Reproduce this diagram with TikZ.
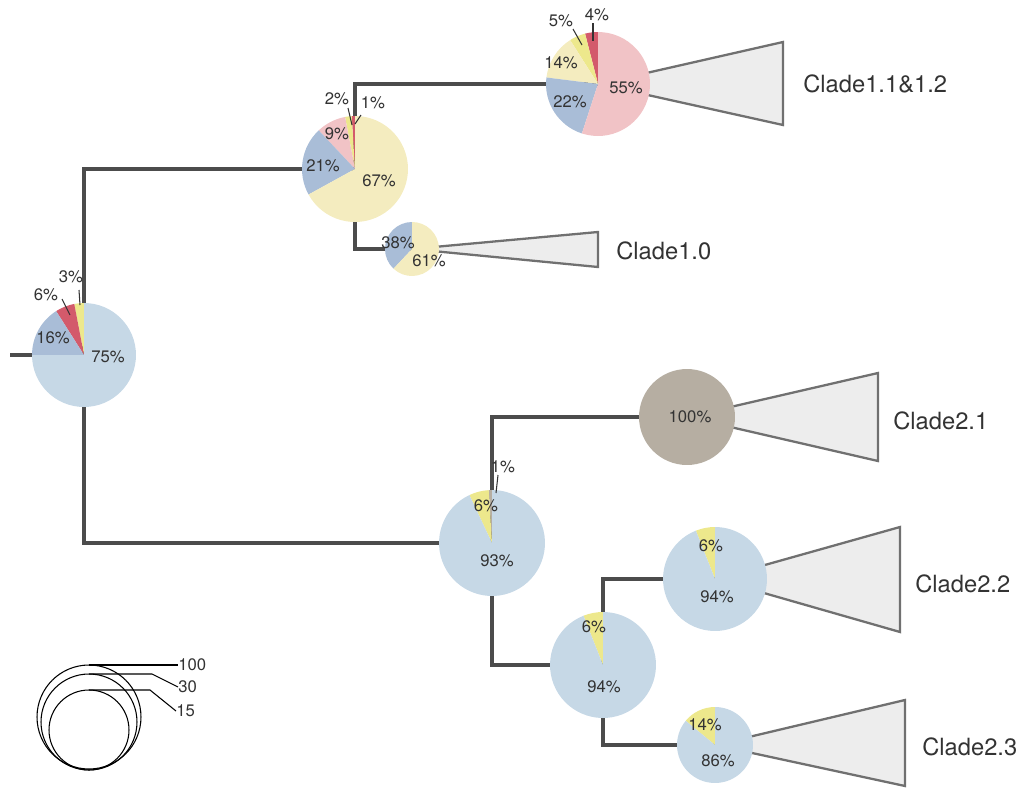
\documentclass[tikz,border=0pt]{standalone}
\usepackage{fontspec}
\setmainfont{TeX Gyre Heros}
\definecolor{skyblue}{HTML}{C6D8E6}
\definecolor{steelblue}{HTML}{A9BDD7}
\definecolor{cherry}{HTML}{D35A6B}
\definecolor{lemon}{HTML}{EDE88C}
\definecolor{cream}{HTML}{F4ECBF}
\definecolor{rose}{HTML}{F1C3C6}
\definecolor{taupe}{HTML}{B6AEA2}
\definecolor{ink}{HTML}{333333}
\tikzset{branch/.style={draw=black!70,line width=1.9pt},
  clade/.style={draw=black!56,fill=black!7,line width=1.3pt,line join=miter},
  pct/.style={text=ink,font=\fontsize{9.5}{11}\selectfont,inner sep=0pt},
  cladename/.style={text=ink,font=\fontsize{13.5}{16}\selectfont,anchor=west,inner sep=0pt},
  leader/.style={draw=ink,line width=0.6pt},
  scalering/.style={draw=black,line width=0.6pt},
  scalename/.style={text=ink,font=\fontsize{9.5}{11}\selectfont,anchor=west,inner sep=0pt},
}
\newcommand{\pieslice}[5]{\fill[#5] (#1) -- ++(#3:#2) arc[start angle=#3,end angle=#4,radius=#2] -- cycle;}

\begin{document}
\begin{tikzpicture}[x=0.02cm,y=0.02cm]
    \useasboundingbox (0,0) rectangle (1022,-788);

    % tree nodes (pie centres)
    \coordinate (stem) at (10,-355);
    \coordinate (root) at (84,-355);
    \coordinate (a) at (355,-169);
    \coordinate (a1) at (598,-84);
    \coordinate (a2) at (412,-249);
    \coordinate (b) at (492,-543);
    \coordinate (b1) at (687,-417);
    \coordinate (b2) at (603,-665);
    \coordinate (b21) at (715,-579);
    \coordinate (b22) at (715,-745);

    % branches
    \draw[branch] (stem) -- (root);
    \draw[branch] (root) |- (a);
    \draw[branch] (root) |- (b);
    \draw[branch] (a) |- (a1);
    \draw[branch] (a) |- (a2);
    \draw[branch] (b) |- (b1);
    \draw[branch] (b) |- (b2);
    \draw[branch] (b2) |- (b21);
    \draw[branch] (b2) |- (b22);

    % collapsed clades
    \coordinate (t11) at (783,-42);
    \coordinate (t12) at (783,-125);
    \coordinate (t21) at (598,-232);
    \coordinate (t22) at (598,-267);
    \coordinate (t31) at (878,-373);
    \coordinate (t32) at (878,-461);
    \coordinate (t41) at (900,-527);
    \coordinate (t42) at (900,-632);
    \coordinate (t51) at (905,-700);
    \coordinate (t52) at (905,-786);
    \path[clade] (a1) -- (t11) -- (t12) -- cycle;
    \path[clade] (a2) -- (t21) -- (t22) -- cycle;
    \path[clade] (b1) -- (t31) -- (t32) -- cycle;
    \path[clade] (b21) -- (t41) -- (t42) -- cycle;
    \path[clade] (b22) -- (t51) -- (t52) -- cycle;

    % pies
    \pieslice{root}{1.04cm}{90}{100.8}{lemon}
    \pieslice{root}{1.04cm}{100.8}{122.4}{cherry}
    \pieslice{root}{1.04cm}{122.4}{180}{steelblue}
    \pieslice{root}{1.04cm}{180}{450}{skyblue}

    \pieslice{a}{1.06cm}{90}{93.6}{cherry}
    \pieslice{a}{1.06cm}{93.6}{100.8}{lemon}
    \pieslice{a}{1.06cm}{100.8}{133.2}{rose}
    \pieslice{a}{1.06cm}{133.2}{208.8}{steelblue}
    \pieslice{a}{1.06cm}{208.8}{450}{cream}

    \pieslice{a1}{1.04cm}{90}{104.4}{cherry}
    \pieslice{a1}{1.04cm}{104.4}{122.4}{lemon}
    \pieslice{a1}{1.04cm}{122.4}{172.8}{cream}
    \pieslice{a1}{1.04cm}{172.8}{252}{steelblue}
    \pieslice{a1}{1.04cm}{252}{450}{rose}

    \pieslice{a2}{0.54cm}{90}{226.8}{steelblue}
    \pieslice{a2}{0.54cm}{226.8}{450}{cream}

    \pieslice{b}{1.06cm}{90}{93.6}{taupe}
    \pieslice{b}{1.06cm}{93.6}{115.2}{lemon}
    \pieslice{b}{1.06cm}{115.2}{450}{skyblue}

    \fill[taupe] (b1) circle[radius=0.96cm];

    \pieslice{b2}{1.06cm}{90}{111.6}{lemon}
    \pieslice{b2}{1.06cm}{111.6}{450}{skyblue}

    \pieslice{b21}{1.04cm}{90}{111.6}{lemon}
    \pieslice{b21}{1.04cm}{111.6}{450}{skyblue}

    \pieslice{b22}{0.76cm}{90}{140.4}{lemon}
    \pieslice{b22}{0.76cm}{140.4}{450}{skyblue}

    % percentages
    \node[pct] (r75) at (108,-357) {75\%};
    \node[pct] (r16) at (53,-338) {16\%};
    \node[pct] (r6) at (46,-295) {6\%};
    \node[pct] (r3) at (71,-277) {3\%};
    \node[pct] (a67) at (379,-181) {67\%};
    \node[pct] (a21) at (323,-166) {21\%};
    \node[pct] (a9) at (337,-134) {9\%};
    \node[pct] (a2p) at (337,-99) {2\%};
    \node[pct] (a1p) at (373,-103) {1\%};
    \node[pct] (c55) at (626,-88) {55\%};
    \node[pct] (c22) at (570,-102) {22\%};
    \node[pct] (c14) at (561,-63) {14\%};
    \node[pct] (c5) at (561,-21) {5\%};
    \node[pct] (c4) at (597,-15) {4\%};
    \node[pct] (d38) at (398,-243) {38\%};
    \node[pct] (d61) at (429,-261) {61\%};
    \node[pct] (e100) at (690,-417) {100\%};
    \node[pct] (f93) at (497,-561) {93\%};
    \node[pct] (f6) at (486,-506) {6\%};
    \node[pct] (f1) at (503,-467) {1\%};
    \node[pct] (g94) at (604,-687) {94\%};
    \node[pct] (g6) at (594,-627) {6\%};
    \node[pct] (h94) at (717,-597) {94\%};
    \node[pct] (h6) at (711,-546) {6\%};
    \node[pct] (k86) at (718,-761) {86\%};
    \node[pct] (k14) at (705,-725) {14\%};

    % leaders for thin slices
    \coordinate (r6a) at (62,-299);  \coordinate (r6b) at (70,-315);
    \coordinate (r3a) at (79,-290);  \coordinate (r3b) at (80,-305);
    \coordinate (a2a) at (348,-108); \coordinate (a2b) at (352,-125);
    \coordinate (a1a) at (361,-115); \coordinate (a1b) at (355,-124);
    \coordinate (c5a) at (573,-29);  \coordinate (c5b) at (582,-45);
    \coordinate (c4a) at (593,-23);  \coordinate (c4b) at (593,-41);
    \coordinate (f1a) at (498,-475); \coordinate (f1b) at (496,-493);
    \draw[leader] (r6a) -- (r6b);
    \draw[leader] (r3a) -- (r3b);
    \draw[leader] (a2a) -- (a2b);
    \draw[leader] (a1a) -- (a1b);
    \draw[leader] (c5a) -- (c5b);
    \draw[leader,line width=1pt] (c4a) -- (c4b);
    \draw[leader] (f1a) -- (f1b);

    % clade names
    \node[cladename] (n1) at (803,-84) {Clade1.1\&1.2};
    \node[cladename] (n2) at (616,-251) {Clade1.0};
    \node[cladename] (n3) at (893,-421) {Clade2.1};
    \node[cladename] (n4) at (915,-584) {Clade2.2};
    \node[cladename] (n5) at (922,-747) {Clade2.3};

    % size legend
    \draw[scalering] (89,-717) circle[radius=1.04cm];
    \draw[scalering] (89,-722) circle[radius=0.96cm];
    \draw[scalering] (89,-730) circle[radius=0.80cm];
    \node[scalename] (s100) at (178,-665) {100};
    \node[scalename] (s30) at (178,-687) {30};
    \node[scalename] (s15) at (176,-711) {15};
    \coordinate (s100a) at (89,-665);
    \coordinate (s30a) at (89,-674);  \coordinate (s30b) at (152,-674);
    \coordinate (s15a) at (89,-690);  \coordinate (s15b) at (150,-690);
    \draw[scalering] (s100a) -- (s100);
    \draw[scalering] (s30a) -- (s30b) -- (s30.west);
    \draw[scalering] (s15a) -- (s15b) -- (s15.west);
\end{tikzpicture}
\end{document}
